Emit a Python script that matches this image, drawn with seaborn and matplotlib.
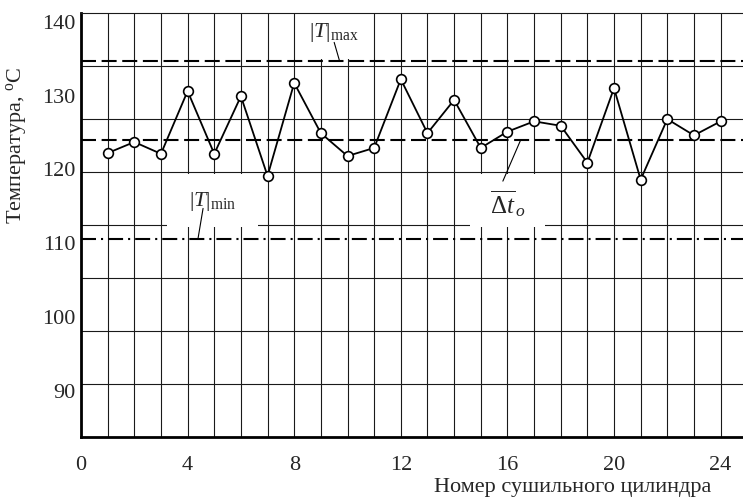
import numpy as np
import matplotlib
matplotlib.use("Agg")
import matplotlib.pyplot as plt
from matplotlib.patches import Rectangle
from matplotlib.ticker import MultipleLocator
import seaborn as sns

# Data
cylinders = list(range(1, 25))
temps = [122.2, 123.7, 122.1, 130.6, 122.1, 129.9, 119.1, 131.7, 124.9, 121.8,
         122.9, 132.2, 124.9, 129.4, 122.9, 125.1, 126.5, 125.9, 120.9, 131.0,
         118.6, 126.8, 124.6, 126.5]
t_max = 134.7
t_mean = 124.0
t_min = 110.6
x_ticks = [0, 4, 8, 12, 16, 20, 24]
y_ticks = [90, 100, 110, 120, 130, 140]

sns.set_style("white")
plt.rcParams["font.family"] = ["Liberation Serif", "DejaVu Serif"]
plt.rcParams["mathtext.fontset"] = "custom"
plt.rcParams["mathtext.rm"] = "Liberation Serif"
plt.rcParams["mathtext.it"] = "Liberation Serif:italic"
plt.rcParams["mathtext.bf"] = "Liberation Serif:bold"

FS = 16
XLIM = (0, 24.84)
YLIM = (83.73, 141.18)

fig = plt.figure(figsize=(7.43, 5.0), dpi=100)
ax = fig.add_axes([81 / 743, 63 / 500, 662 / 743, 424 / 500])
ax.set_xlim(*XLIM)
ax.set_ylim(*YLIM)

# grid: vertical line at every cylinder, horizontal lines at 8 equal steps
# (the y tick labels do not sit on the horizontal grid in the original)
ax.set_axisbelow(True)
ax.set_xticks(x_ticks)
ax.xaxis.set_minor_locator(MultipleLocator(1))
ax.set_yticks(y_ticks)
ax.set_yticks(np.linspace(YLIM[0], YLIM[1], 9)[1:-1], minor=True)
ax.grid(axis="x", which="both", color="#1a1a1a", linewidth=0.8)
ax.grid(axis="y", which="minor", color="#1a1a1a", linewidth=0.8)
ax.grid(axis="y", which="major", visible=False)
ax.tick_params(which="both", length=0)
ax.tick_params(axis="x", pad=14, labelsize=FS)
ax.tick_params(axis="y", pad=4, labelsize=FS)

for side in ["left", "bottom"]:
    ax.spines[side].set_linewidth(2.0)
    ax.spines[side].set_color("black")
ax.spines["top"].set_linewidth(0.8)
ax.spines["top"].set_color("#1a1a1a")
ax.spines["right"].set_visible(False)

# white label boxes that break the grid
for x0, x1, y0, y1 in [(8.1, 10.9, t_max + 0.3, YLIM[1] - 0.1),
                       (3.23, 6.64, 112.2, 119.4),
                       (14.6, 17.4, 112.2, 119.4)]:
    ax.add_patch(Rectangle((x0, y0), x1 - x0, y1 - y0, facecolor="white",
                           edgecolor="none", zorder=1))

# reference levels
ax.axhline(t_max, color="black", linewidth=1.5, dashes=(7.2, 2.7), zorder=2)
ax.axhline(t_mean, color="black", linewidth=1.5, dashes=(7.2, 2.7), zorder=2)
ax.axhline(t_min, color="black", linewidth=1.5, dashes=(7.2, 2.4, 1.0, 2.4), zorder=2)

sns.lineplot(x=cylinders, y=temps, ax=ax, color="black", linewidth=1.3,
             marker="o", markersize=7, markerfacecolor="white",
             markeredgecolor="black", markeredgewidth=1.2, zorder=3)

# annotations with leader lines
ax.text(9.5, 138.5, r"$|T|_{\mathrm{max}}$", fontsize=FS, ha="center", va="center")
ax.plot([9.5, 9.7], [137.2, t_max], color="black", linewidth=0.8)

ax.text(4.95, 115.6, r"$|T|_{\mathrm{min}}$", fontsize=FS, ha="center", va="center")
ax.plot([4.58, 4.39], [114.7, t_min], color="black", linewidth=0.8)

ax.text(16.0, 115.4, r"$\overline{\Delta t}_{\,o}$", fontsize=FS + 2, ha="center", va="center")
ax.plot([15.83, 16.5], [118.4, t_mean], color="black", linewidth=0.8)

ax.set_xlabel("Номер сушильного цилиндра", fontsize=FS)
ax.xaxis.set_label_coords(0.742, -0.12)
ax.xaxis.label.set_va("center")
ax.set_ylabel(r"Температура, ${}^{\mathrm{o}}$C", fontsize=FS)
ax.yaxis.set_label_coords(-0.097, 0.689)
ax.yaxis.label.set_va("center")

fig.savefig("out.png", dpi=100, facecolor="white")
